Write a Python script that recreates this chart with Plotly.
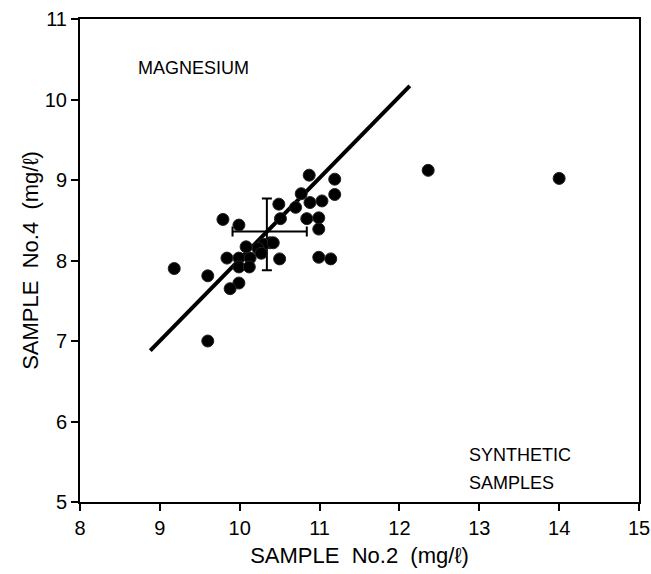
import plotly.graph_objects as go

# Data points (Sample No.2 vs Sample No.4, mg/l)
x_vals = [10.87, 11.19, 10.77, 11.19, 10.49, 10.70, 10.88, 11.03, 10.51, 10.84,
          10.99, 10.99, 9.79, 9.99, 10.38, 10.30, 10.42, 10.08, 10.23, 9.84,
          9.99, 10.13, 10.27, 9.99, 10.12, 10.50, 10.99, 11.14, 9.18, 9.60,
          9.99, 9.88, 9.60, 12.36, 14.00]
y_vals = [9.06, 9.01, 8.83, 8.82, 8.70, 8.66, 8.72, 8.74, 8.52, 8.52,
          8.53, 8.39, 8.51, 8.44, 8.22, 8.20, 8.22, 8.17, 8.15, 8.03,
          8.03, 8.03, 8.09, 7.92, 7.92, 8.02, 8.04, 8.02, 7.90, 7.81,
          7.72, 7.65, 7.00, 9.12, 9.02]

# Regression line end points
line_x = [8.88, 12.13]
line_y = [6.88, 10.17]

# Mean with error bars
mean_x = [10.34]
mean_y = [8.36]
err_x_plus = [0.50]
err_x_minus = [0.43]
err_y_plus = [0.41]
err_y_minus = [0.48]

x_ticks = [8, 9, 10, 11, 12, 13, 14, 15]
y_ticks = [5, 6, 7, 8, 9, 10, 11]

font_family = "Liberation Sans, Arial, sans-serif"

fig = go.Figure()

fig.add_trace(go.Scatter(
    x=line_x, y=line_y, mode="lines",
    line=dict(color="black", width=4), showlegend=False, hoverinfo="skip"))

fig.add_trace(go.Scatter(
    x=mean_x, y=mean_y, mode="markers",
    marker=dict(size=1, color="black"),
    error_x=dict(type="data", symmetric=False, array=err_x_plus, arrayminus=err_x_minus,
                 color="black", thickness=2, width=5),
    error_y=dict(type="data", symmetric=False, array=err_y_plus, arrayminus=err_y_minus,
                 color="black", thickness=2, width=5),
    showlegend=False))

fig.add_trace(go.Scatter(
    x=x_vals, y=y_vals, mode="markers",
    marker=dict(size=12, color="black", line=dict(color="#222", width=1)),
    showlegend=False))

fig.add_annotation(x=8.70, y=10.39, text="MAGNESIUM", showarrow=False,
                   xanchor="left", yanchor="middle",
                   font=dict(family=font_family, size=18, color="black"))
fig.add_annotation(x=12.85, y=5.58, text="SYNTHETIC", showarrow=False,
                   xanchor="left", yanchor="middle",
                   font=dict(family=font_family, size=18, color="black"))
fig.add_annotation(x=12.85, y=5.23, text="SAMPLES", showarrow=False,
                   xanchor="left", yanchor="middle",
                   font=dict(family=font_family, size=18, color="black"))

axis_common = dict(
    showgrid=False, zeroline=False, showline=True, linecolor="black", linewidth=2,
    mirror=True, ticks="outside", ticklen=7, tickwidth=2, tickcolor="black",
    automargin=False,
    tickfont=dict(family=font_family, size=20, color="black"),
)

fig.update_xaxes(range=[8, 15], tickvals=x_ticks, ticktext=[str(t) for t in x_ticks],
                 title=dict(text="SAMPLE  No.2  (mg/ℓ)",
                            font=dict(family=font_family, size=22, color="black"),
                            standoff=10),
                 **axis_common)
fig.update_yaxes(range=[5, 11], tickvals=y_ticks, ticktext=[str(t) for t in y_ticks],
                 title=dict(text="SAMPLE  No.4  (mg/ℓ)",
                            font=dict(family=font_family, size=22, color="black"),
                            standoff=0),
                 **axis_common)

fig.update_layout(
    width=651, height=574,
    margin=dict(l=80, r=12, t=19, b=72),
    plot_bgcolor="white", paper_bgcolor="white",
)

fig.write_html("out.html")
